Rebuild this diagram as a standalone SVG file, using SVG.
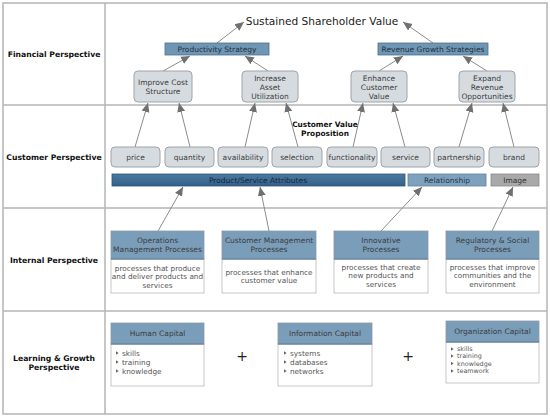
<svg xmlns="http://www.w3.org/2000/svg" width="550" height="417" viewBox="0 0 550 417">
<style>
text{font-family:"DejaVu Sans",Verdana,sans-serif;fill:#3a3a3a;}
.lbl{font-weight:bold;font-size:7.7px;fill:#111;text-anchor:middle;}
.t{font-size:7.5px;text-anchor:middle;fill:#3c3c3c;}
.b{font-size:7.3px;text-anchor:middle;fill:#555;}
.li{font-size:7.3px;fill:#555;}
.ls{font-size:6.4px;fill:#555;}
.grid{stroke:#b4b4b4;stroke-width:1.5;fill:none;}
.rb{fill:#d6dbe0;stroke:#9ea4aa;stroke-width:1;}
.hdr{fill:#7a9dba;stroke:#8a9aa8;stroke-width:0.8;}
.hb{stroke:#5f7f99;stroke-width:1.2;}
.body{fill:#fff;stroke:#b8b8b8;stroke-width:0.8;}
.strat{fill:#6f96b4;stroke:#506f88;stroke-width:0.8;}
.arr{stroke:#8c8c8c;stroke-width:1;fill:none;marker-end:url(#ah);}
.plus{font-size:14px;fill:#222;text-anchor:middle;}
</style>
<defs>
<marker id="ah" markerUnits="userSpaceOnUse" markerWidth="10" markerHeight="10" viewBox="0 0 10 10" refX="9" refY="5" orient="auto">
<path d="M0,1 L9,5 L0,9 z" fill="#707070"/>
</marker>
<polygon id="bul" points="0,-1.8 2.6,0 0,1.8" fill="#666"/>
<linearGradient id="gPS" x1="0" y1="0" x2="0" y2="1"><stop offset="0" stop-color="#4a7aa0"/><stop offset="1" stop-color="#34618a"/></linearGradient>
</defs>
<rect width="550" height="417" fill="#fff"/>
<g id="grid">
<rect class="grid" x="3" y="3" width="544" height="411"/>
<line class="grid" x1="105" y1="3" x2="105" y2="414"/>
<line class="grid" x1="3" y1="105" x2="547" y2="105"/>
<line class="grid" x1="3" y1="208" x2="547" y2="208"/>
<line class="grid" x1="3" y1="311" x2="547" y2="311"/>
</g>
<g id="row-labels">
<text class="lbl" x="54" y="57">Financial Perspective</text>
<text class="lbl" x="54" y="160">Customer Perspective</text>
<text class="lbl" x="54" y="263">Internal Perspective</text>
<text class="lbl" x="54" y="361">Learning &amp; Growth</text>
<text class="lbl" x="54" y="370">Perspective</text>
</g>
<g id="connectors">
<line class="arr" x1="217" y1="43" x2="244" y2="22"/>
<line class="arr" x1="433" y1="43" x2="403" y2="22"/>
<line class="arr" x1="163" y1="71" x2="190" y2="56"/>
<line class="arr" x1="268" y1="71" x2="245" y2="56"/>
<line class="arr" x1="379" y1="71" x2="403" y2="56"/>
<line class="arr" x1="487" y1="71" x2="463" y2="56"/>
<line class="arr" x1="135" y1="147" x2="148" y2="103"/>
<line class="arr" x1="190" y1="147" x2="179" y2="103"/>
<line class="arr" x1="245" y1="147" x2="255" y2="103"/>
<line class="arr" x1="298" y1="147" x2="286" y2="103"/>
<line class="arr" x1="353" y1="147" x2="363" y2="103"/>
<line class="arr" x1="405" y1="147" x2="393" y2="103"/>
<line class="arr" x1="459" y1="147" x2="472" y2="103"/>
<line class="arr" x1="514" y1="147" x2="503" y2="103"/>
<line class="arr" x1="158" y1="231" x2="183" y2="187"/>
<line class="arr" x1="269" y1="231" x2="260" y2="187"/>
<line class="arr" x1="381" y1="231" x2="422" y2="187"/>
<line class="arr" x1="492" y1="231" x2="513" y2="187"/>
</g>
<g id="sustained">
<text x="322" y="25" style="font-size:10.6px;text-anchor:middle;fill:#222;">Sustained Shareholder Value</text>
</g>
<g id="productivity-strategy">
<rect class="strat" x="165" y="43" width="104" height="12"/>
<text class="t" x="217" y="51.8" style="fill:#1e3040;">Productivity Strategy</text>
</g>
<g id="revenue-growth">
<rect class="strat" x="378" y="43" width="110" height="12"/>
<text class="t" x="433" y="51.8" style="fill:#1e3040;">Revenue Growth Strategies</text>
</g>
<g id="improve-cost">
<rect class="rb" x="134" y="71" width="58" height="31" rx="4"/>
<text class="t" x="163" y="84.7">Improve Cost</text>
<text class="t" x="163" y="93.7">Structure</text>
</g>
<g id="increase-asset">
<rect class="rb" x="242" y="71" width="56" height="31" rx="4"/>
<text class="t" x="270" y="80.5">Increase</text>
<text class="t" x="270" y="89.5">Asset</text>
<text class="t" x="270" y="98.5">Utilization</text>
</g>
<g id="enhance-customer">
<rect class="rb" x="351" y="71" width="56" height="31" rx="4"/>
<text class="t" x="379" y="80.5">Enhance</text>
<text class="t" x="379" y="89.5">Customer</text>
<text class="t" x="379" y="98.5">Value</text>
</g>
<g id="expand-revenue">
<rect class="rb" x="459" y="71" width="56" height="31" rx="4"/>
<text class="t" x="487" y="80.5">Expand</text>
<text class="t" x="487" y="89.5">Revenue</text>
<text class="t" x="487" y="98.5">Opportunities</text>
</g>
<g id="cvp-label">
<text class="lbl" x="325" y="127" style="font-size:7.4px;">Customer Value</text>
<text class="lbl" x="325" y="136" style="font-size:7.4px;">Proposition</text>
</g>
<g id="price"><rect class="rb" x="111" y="147" width="49" height="20" rx="4"/><text class="t" x="135.5" y="159.7">price</text></g>
<g id="quantity"><rect class="rb" x="165" y="147" width="49" height="20" rx="4"/><text class="t" x="189.5" y="159.7">quantity</text></g>
<g id="availability"><rect class="rb" x="218" y="147" width="50" height="20" rx="4"/><text class="t" x="243" y="159.7">availability</text></g>
<g id="selection"><rect class="rb" x="272" y="147" width="50" height="20" rx="4"/><text class="t" x="297" y="159.7">selection</text></g>
<g id="functionality"><rect class="rb" x="327" y="147" width="50" height="20" rx="4"/><text class="t" x="352" y="159.7">functionality</text></g>
<g id="service"><rect class="rb" x="381" y="147" width="49" height="20" rx="4"/><text class="t" x="405.5" y="159.7">service</text></g>
<g id="partnership"><rect class="rb" x="434" y="147" width="50" height="20" rx="4"/><text class="t" x="459" y="159.7">partnership</text></g>
<g id="brand"><rect class="rb" x="489" y="147" width="50" height="20" rx="4"/><text class="t" x="514" y="159.7">brand</text></g>
<g id="product-service-attributes">
<rect x="112" y="174" width="293" height="12" fill="url(#gPS)" stroke="#2e5475" stroke-width="0.8"/>
<text class="t" x="258" y="182.8" style="fill:#15263a;">Product/Service Attributes</text>
</g>
<g id="relationship">
<rect x="408" y="174" width="78" height="12" fill="#7ea2be" stroke="#5f819c" stroke-width="0.8"/>
<text class="t" x="447" y="182.8" style="fill:#23364a;">Relationship</text>
</g>
<g id="image">
<rect x="491" y="174" width="48" height="12" fill="#a9a9a9" stroke="#8a8a8a" stroke-width="0.8"/>
<text class="t" x="515" y="182.8" style="fill:#333;">Image</text>
</g>
<g id="operations-management">
<rect class="body" x="111" y="259" width="93" height="34"/>
<rect class="hdr" x="111" y="231" width="93" height="28"/>
<line class="hb" x1="111" y1="259" x2="204" y2="259"/>
<text class="t" x="157.5" y="242.7">Operations</text>
<text class="t" x="157.5" y="251.7">Management Processes</text>
<text class="b" x="157.5" y="270.5">processes that produce</text>
<text class="b" x="157.5" y="279.3">and deliver products and</text>
<text class="b" x="157.5" y="288">services</text>
</g>
<g id="customer-management">
<rect class="body" x="222" y="259" width="94" height="34"/>
<rect class="hdr" x="222" y="231" width="94" height="28"/>
<line class="hb" x1="222" y1="259" x2="316" y2="259"/>
<text class="t" x="269" y="242.7">Customer Management</text>
<text class="t" x="269" y="251.7">Processes</text>
<text class="b" x="269" y="274.5">processes that enhance</text>
<text class="b" x="269" y="283.3">customer value</text>
</g>
<g id="innovative">
<rect class="body" x="334" y="259" width="94" height="34"/>
<rect class="hdr" x="334" y="231" width="94" height="28"/>
<line class="hb" x1="334" y1="259" x2="428" y2="259"/>
<text class="t" x="381" y="242.7">Innovative</text>
<text class="t" x="381" y="251.7">Processes</text>
<text class="b" x="381" y="269.5">processes that create</text>
<text class="b" x="381" y="278.3">new products and</text>
<text class="b" x="381" y="287">services</text>
</g>
<g id="regulatory-social">
<rect class="body" x="446" y="259" width="93" height="34"/>
<rect class="hdr" x="446" y="231" width="93" height="28"/>
<line class="hb" x1="446" y1="259" x2="539" y2="259"/>
<text class="t" x="492.5" y="242.7">Regulatory &amp; Social</text>
<text class="t" x="492.5" y="251.7">Processes</text>
<text class="b" x="492.5" y="269.5">processes that improve</text>
<text class="b" x="492.5" y="278.3">communities and the</text>
<text class="b" x="492.5" y="287">environment</text>
</g>
<g id="human-capital">
<rect class="body" x="111" y="344" width="93" height="42"/>
<rect class="hdr" x="111" y="323" width="93" height="21"/>
<line class="hb" x1="111" y1="344" x2="204" y2="344"/>
<text class="t" x="157.5" y="336.2">Human Capital</text>
<use href="#bul" x="116" y="353"/><text class="li" x="122" y="355.5">skills</text>
<use href="#bul" x="116" y="362"/><text class="li" x="122" y="364.5">training</text>
<use href="#bul" x="116" y="371"/><text class="li" x="122" y="373.5">knowledge</text>
</g>
<g id="information-capital">
<rect class="body" x="278" y="344" width="94" height="42"/>
<rect class="hdr" x="278" y="323" width="94" height="21"/>
<line class="hb" x1="278" y1="344" x2="372" y2="344"/>
<text class="t" x="325" y="336.2">Information Capital</text>
<use href="#bul" x="284" y="353"/><text class="li" x="290" y="355.5">systems</text>
<use href="#bul" x="284" y="362"/><text class="li" x="290" y="364.5">databases</text>
<use href="#bul" x="284" y="371"/><text class="li" x="290" y="373.5">networks</text>
</g>
<g id="organization-capital">
<rect class="body" x="446" y="342" width="93" height="41"/>
<rect class="hdr" x="446" y="321" width="93" height="21"/>
<line class="hb" x1="446" y1="342" x2="539" y2="342"/>
<text class="t" x="492.5" y="334.2">Organization Capital</text>
<use href="#bul" x="451" y="349"/><text class="ls" x="457" y="351.2">skills</text>
<use href="#bul" x="451" y="356"/><text class="ls" x="457" y="358.2">training</text>
<use href="#bul" x="451" y="363.5"/><text class="ls" x="457" y="365.7">knowledge</text>
<use href="#bul" x="451" y="371"/><text class="ls" x="457" y="373.2">teamwork</text>
</g>
<g id="plus-signs">
<text class="plus" x="242" y="361">+</text>
<text class="plus" x="408" y="361">+</text>
</g>
</svg>
